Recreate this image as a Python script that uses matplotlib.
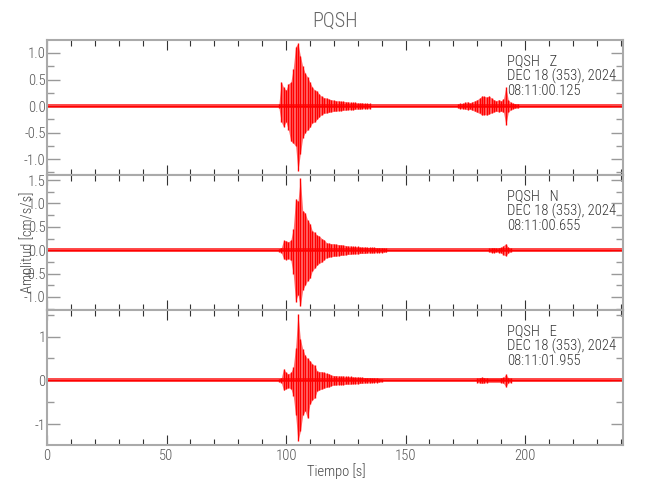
import matplotlib
matplotlib.use('Agg')
import matplotlib.pyplot as plt
from matplotlib import font_manager
from matplotlib.ticker import MultipleLocator, FuncFormatter

# choose a narrow / thin sans family if one is installed
_names = {f.name for f in font_manager.fontManager.ttflist}
_stretch = 'normal'
_weight = 'normal'
if 'Liberation Sans Narrow' in _names:
    _fam = 'Liberation Sans Narrow'
elif 'Roboto Condensed' in _names:
    _fam = 'Roboto Condensed'
    _weight = 'light'
elif 'Roboto' in _names:
    _fam = 'Roboto'
    _weight = 'light'
else:
    _fam = 'DejaVu Sans'
    _stretch = 'condensed'
plt.rcParams['font.family'] = [_fam, 'DejaVu Sans']
plt.rcParams['font.weight'] = _weight
plt.rcParams['font.stretch'] = _stretch

# ---------------- data ----------------
station = "PQSH"
components = ["Z", "N", "E"]
date_label = "DEC 18 (353), 2024"
start_times = ["08:11:00.125", "08:11:00.655", "08:11:01.955"]
x_max = 241
x_ticks = [0, 50, 100, 150, 200]
noise_level = [0.035, 0.04, 0.045]          # background noise half-width per component

# Z component: envelope (max / min per 1 s bin) of the events
z1_t = list(range(97, 136))
z1_up = [0.03, 0.46, 0.35, 0.30, 0.42, 0.45, 0.70, 1.12, 1.18, 0.95, 0.75, 0.62, 0.55,
         0.45, 0.36, 0.30, 0.28, 0.22, 0.18, 0.16, 0.15, 0.13, 0.12, 0.11, 0.10, 0.10,
         0.09, 0.09, 0.08, 0.08, 0.07, 0.07, 0.07, 0.06, 0.06, 0.06, 0.05, 0.05, 0.05]
z1_lo = [-0.03, -0.30, -0.39, -0.30, -0.45, -0.66, -0.70, -0.75, -1.22, -0.90, -0.60,
         -0.50, -0.45, -0.40, -0.32, -0.30, -0.25, -0.20, -0.16, -0.14, -0.13, -0.12,
         -0.11, -0.10, -0.10, -0.09, -0.09, -0.08, -0.08, -0.07, -0.07, -0.07, -0.06,
         -0.06, -0.06, -0.05, -0.05, -0.05, -0.05]
z2_t = list(range(172, 198))
z2_up = [0.04, 0.05, 0.05, 0.07, 0.08, 0.06, 0.08, 0.10, 0.12, 0.15, 0.19, 0.18, 0.17,
         0.19, 0.15, 0.12, 0.10, 0.12, 0.10, 0.14, 0.36, 0.12, 0.07, 0.05, 0.04, 0.04]
z2_lo = [-0.04, -0.05, -0.05, -0.06, -0.07, -0.06, -0.08, -0.10, -0.12, -0.14, -0.17,
         -0.16, -0.17, -0.15, -0.13, -0.11, -0.10, -0.11, -0.10, -0.12, -0.35, -0.12,
         -0.07, -0.05, -0.04, -0.04]

# N component
n1_t = list(range(97, 143))
n1_up = [0.03, 0.05, 0.21, 0.20, 0.18, 0.22, 0.45, 1.10, 1.05, 1.54, 0.85, 0.80, 0.65,
         0.57, 0.42, 0.38, 0.32, 0.30, 0.25, 0.22, 0.16, 0.15, 0.14, 0.14, 0.13, 0.12,
         0.12, 0.11, 0.10, 0.09, 0.09, 0.08, 0.08, 0.08, 0.07, 0.07, 0.07, 0.06, 0.06,
         0.06, 0.06, 0.05, 0.05, 0.05, 0.04, 0.04]
n1_lo = [-0.03, -0.05, -0.18, -0.20, -0.18, -0.22, -0.50, -1.10, -0.95, -1.20, -0.85,
         -0.75, -0.65, -0.60, -0.45, -0.38, -0.32, -0.28, -0.25, -0.20, -0.16, -0.15,
         -0.14, -0.13, -0.13, -0.12, -0.11, -0.11, -0.10, -0.09, -0.09, -0.08, -0.08,
         -0.08, -0.07, -0.07, -0.07, -0.06, -0.06, -0.06, -0.06, -0.05, -0.05, -0.05,
         -0.04, -0.04]
n2_t = [185, 186, 187, 188, 189, 190, 191, 192, 193, 194]
n2_up = [0.04, 0.05, 0.05, 0.04, 0.05, 0.06, 0.10, 0.14, 0.06, 0.04]
n2_lo = [-0.04, -0.05, -0.05, -0.04, -0.05, -0.06, -0.10, -0.12, -0.06, -0.04]

# E component
e1_t = list(range(97, 141))
e1_up = [0.03, 0.05, 0.27, 0.18, 0.15, 0.18, 0.30, 0.75, 1.52, 0.95, 0.72, 0.57, 0.50,
         0.45, 0.38, 0.34, 0.22, 0.20, 0.20, 0.18, 0.16, 0.15, 0.12, 0.11, 0.11, 0.10,
         0.10, 0.10, 0.09, 0.09, 0.09, 0.08, 0.08, 0.08, 0.07, 0.07, 0.06, 0.06, 0.06,
         0.05, 0.05, 0.05, 0.04, 0.04]
e1_lo = [-0.03, -0.05, -0.23, -0.19, -0.17, -0.19, -0.35, -0.80, -1.38, -1.17, -0.80,
         -0.70, -0.87, -0.55, -0.45, -0.40, -0.25, -0.22, -0.20, -0.18, -0.16, -0.15,
         -0.12, -0.11, -0.11, -0.10, -0.10, -0.10, -0.09, -0.09, -0.09, -0.08, -0.08,
         -0.08, -0.07, -0.07, -0.06, -0.06, -0.06, -0.05, -0.05, -0.05, -0.04, -0.04]
e2_t = [180, 181, 182, 183, 184, 190, 191, 192, 193, 194]
e2_up = [0.05, 0.06, 0.07, 0.06, 0.05, 0.05, 0.07, 0.14, 0.06, 0.05]
e2_lo = [-0.05, -0.06, -0.07, -0.06, -0.05, -0.05, -0.07, -0.15, -0.06, -0.05]

windows = [
    [(z1_t, z1_up, z1_lo), (z2_t, z2_up, z2_lo)],
    [(n1_t, n1_up, n1_lo), (n2_t, n2_up, n2_lo)],
    [(e1_t, e1_up, e1_lo), (e2_t, e2_up, e2_lo)],
]
y_limits = [(-1.30, 1.245), (-1.28, 1.61), (-1.48, 1.61)]
y_major = [0.5, 0.5, 1.0]
y_minor = [0.25, 0.25, 0.5]
y_fmt = ['%.1f', '%.1f', '%d']

# ---------------- figure ----------------
W, H = 650, 500
fig = plt.figure(figsize=(W / 100, H / 100), dpi=100)
left, right = 47, 623
tops = [40, 175, 310]
ph = 135

SPINE = '#aaaaaa'
TXT = '#444444'
RED = '#ff0000'

for i in range(3):
    ax = fig.add_axes([left / W, 1 - (tops[i] + ph) / H, (right - left) / W, ph / H])
    n = noise_level[i]
    ax.fill_between([0, x_max], [-n, -n], [n, n], color=RED, alpha=0.7, lw=0)
    ax.plot([0, x_max], [0, 0], color=RED, lw=0.9)
    for (t, up, lo) in windows[i]:
        ax.fill_between(t, lo, up, color=RED, alpha=0.55, lw=0)
        ax.vlines(t, lo, up, color=RED, lw=1.0)
    ax.set_xlim(0, x_max)
    ax.set_ylim(*y_limits[i])
    ax.xaxis.set_major_locator(plt.FixedLocator(x_ticks))
    ax.xaxis.set_minor_locator(MultipleLocator(10))
    ax.yaxis.set_major_locator(MultipleLocator(y_major[i]))
    ax.yaxis.set_minor_locator(MultipleLocator(y_minor[i]))
    fmt = y_fmt[i]
    ax.yaxis.set_major_formatter(FuncFormatter(lambda v, p, f=fmt: (f % v).replace('\u2212', '-')))
    for s in ax.spines.values():
        s.set_color(SPINE)
        s.set_linewidth(1.5)
    ax.tick_params(axis='x', which='both', direction='in', top=True, bottom=True,
                   color='#333333', width=0.8, labelsize=10.5, labelcolor='#555555', pad=3)
    ax.tick_params(axis='x', which='major', length=7)
    ax.tick_params(axis='x', which='minor', length=4)
    ax.tick_params(axis='y', which='both', direction='in', left=True, right=True,
                   color='#999999', width=1.0, labelsize=10.5, labelcolor='#555555', pad=1)
    ax.tick_params(axis='y', which='major', length=9)
    ax.tick_params(axis='y', which='minor', length=5)
    if i < 2:
        ax.tick_params(axis='x', labelbottom=False)
    for j, line in enumerate([f"{station}   {components[i]}", date_label, start_times[i]]):
        fig.text(507 / W, 1 - (tops[i] + 21 + j * 15) / H, line, fontsize=10.5,
                 color='#333333', ha='left', va='center')

fig.text(335 / W, 1 - 21 / H, station, ha='center', va='center', fontsize=14.5, color='#666666')
fig.text(336 / W, 1 - 471 / H, "Tiempo [s]", ha='center', va='center', fontsize=10.5, color=TXT)
fig.text(27 / W, 1 - 242 / H, "Amplitud [cm/s/s]", ha='center', va='center',
         rotation=90, fontsize=10.5, color=TXT)

fig.savefig('out.png', dpi=100)
